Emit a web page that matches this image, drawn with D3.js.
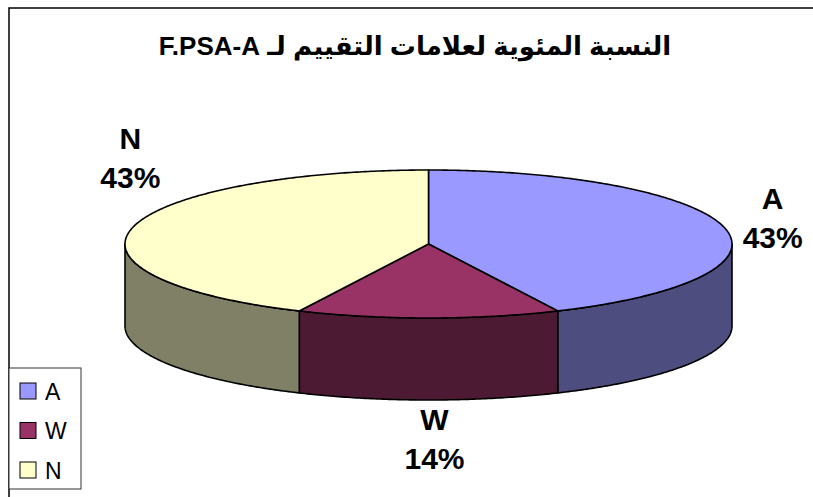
<!DOCTYPE html>
<html>
<head>
<meta charset="utf-8">
<script src="https://cdn.jsdelivr.net/npm/d3@7"></script>
<style>
  html, body { margin: 0; padding: 0; background: #fff; }
  svg { display: block; }
</style>
</head>
<body>
<svg id="chart" width="813" height="497"></svg>
<script>
// ---- data ----
const categories = ["A", "W", "N"];
const values = [43, 14, 43];
const percentLabels = ["43%", "14%", "43%"];
const title = "النسبة المئوية لعلامات التقييم لـ F.PSA-A";

// ---- styles / layout ----
const topColors = ["#9999FF", "#993366", "#FFFFCC"];
const sideColors = ["#4D4D80", "#4D1A33", "#808066"];
const W = 813, H = 497;
const cx = 428.5, cy = 244, rx = 303.5, ry = 74, depth = 82;
const labelOffsets = [[48, -19], [6, 30], [-2, -79]];
const fontFam = "'Liberation Sans', Arial, 'DejaVu Sans', sans-serif";

const svg = d3.select("#chart");

// frame
svg.append("rect").attr("x", 9).attr("y", 8).attr("width", W + 20).attr("height", H + 20)
  .attr("fill", "#fff").attr("stroke", "#000").attr("stroke-width", 1.5);

// title
svg.append("text").attr("x", 415).attr("y", 55)
  .attr("text-anchor", "middle").attr("direction", "rtl")
  .style("font-family", fontFam).style("font-weight", "bold").style("font-size", "26px")
  .text(title);

const pie = d3.pie().sort(null).value(d => d).startAngle(0).endAngle(2 * Math.PI);
const arcs = pie(values);

// angle -> ellipse point (angle measured clockwise from 12 o'clock)
const ex = a => cx + rx * Math.sin(a);
const ey = a => cy - ry * Math.cos(a);
const line = d3.line().x(d => d[0]).y(d => d[1]);

function sampleAngles(a0, a1) {
  const n = Math.max(2, Math.ceil((a1 - a0) / 0.01));
  return d3.range(n + 1).map(i => a0 + (a1 - a0) * i / n);
}

// side walls (front half: PI/2 .. 3PI/2)
const g = svg.append("g");
arcs.forEach((d, i) => {
  const a0 = Math.max(d.startAngle, Math.PI / 2);
  const a1 = Math.min(d.endAngle, 3 * Math.PI / 2);
  if (a1 <= a0) return;
  const angs = sampleAngles(a0, a1);
  const top = angs.map(a => [ex(a), ey(a)]);
  const bot = angs.slice().reverse().map(a => [ex(a), ey(a) + depth]);
  g.append("path").attr("d", line(top.concat(bot)) + "Z")
    .attr("fill", sideColors[i]).attr("stroke", "#000").attr("stroke-width", 1.6)
    .attr("stroke-linejoin", "round");
});

// top faces
arcs.forEach((d, i) => {
  const angs = sampleAngles(d.startAngle, d.endAngle);
  const pts = [[cx, cy]].concat(angs.map(a => [ex(a), ey(a)]));
  g.append("path").attr("d", line(pts) + "Z")
    .attr("fill", topColors[i]).attr("stroke", "#000").attr("stroke-width", 1.6)
    .attr("stroke-linejoin", "round");
});

// data labels
arcs.forEach((d, i) => {
  const m = (d.startAngle + d.endAngle) / 2;
  const front = Math.cos(m) < 0;
  const ax = ex(m) + labelOffsets[i][0];
  const ay = ey(m) + (front ? depth : 0) + labelOffsets[i][1];
  const t = svg.append("text").attr("text-anchor", "middle")
    .style("font-family", fontFam).style("font-weight", "bold").style("font-size", "30px");
  t.append("tspan").attr("x", ax).attr("y", ay).text(categories[i]);
  t.append("tspan").attr("x", ax).attr("y", ay + 39).text(percentLabels[i]);
});

// legend
const lg = svg.append("g");
lg.append("rect").attr("x", 9).attr("y", 368).attr("width", 72).attr("height", 121)
  .attr("fill", "#fff").attr("stroke", "#333").attr("stroke-width", 1);
categories.forEach((c, i) => {
  const y = 391 + i * 39.5;
  lg.append("rect").attr("x", 20).attr("y", y - 8).attr("width", 16).attr("height", 16)
    .attr("fill", topColors[i]).attr("stroke", "#000").attr("stroke-width", 1);
  lg.append("text").attr("x", 45).attr("y", y + 8.5)
    .style("font-family", fontFam).style("font-size", "23px").text(c);
});
</script>
</body>
</html>
